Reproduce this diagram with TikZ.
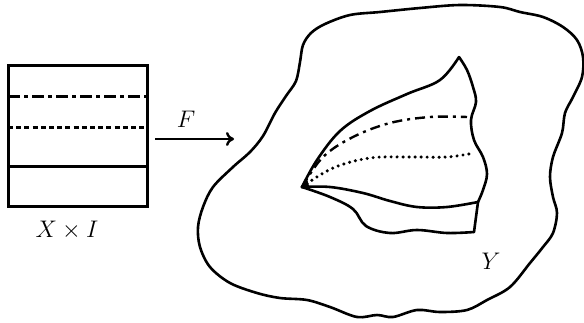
\documentclass[tikz,border=0pt]{standalone}
\usetikzlibrary{arrows.meta}
\begin{document}
\begin{tikzpicture}[x=0.5pt,y=-0.5pt,
  every node/.style={font=\large},
  boxline/.style={line width=1.5pt},
  blobline/.style={line width=1.3pt, line join=round, line cap=round},
  dashdotline/.style={line width=1.2pt, dash pattern=on 5pt off 2.5pt on 1.5pt off 2.5pt},
  dotline/.style={line width=1.7pt, line cap=round, dash pattern=on 0pt off 3pt}]
\useasboundingbox (0,0) rectangle (584,322);
% The cylinder X x I
\draw[boxline] (8,65) rectangle (147,206);
\draw[boxline, dash pattern=on 6pt off 2pt on 2pt off 2pt] (8,96) -- (147,96);
\draw[boxline, dash pattern=on 2.5pt off 1.6pt] (8,127) -- (147,127);
\draw[boxline] (8,166) -- (147,166);
\node (xi) at (67,230) {$X\times I$};
% The map F
\coordinate (fstart) at (155,139);
\coordinate (fend) at (234,139);
\draw[line width=1.2pt, -{To[length=4pt,width=7pt]}] (fstart) -- (fend);
\node (flabel) at (186,119) {$F$};
% The space Y
\draw[blobline] plot[smooth cycle, tension=0.55] coordinates {
  (300,62) (303,45) (311,33) (325,24) (350,15) (380,12) (420,8) (460,5)
  (500,7) (520,12) (543,17) (563,27) (577,40) (583,57) (582,77) (573,97)
  (565,113) (562,133) (553,157) (550,177) (553,197) (557,213) (553,233)
  (543,247) (530,263) (510,287) (487,300) (467,310) (440,312) (417,310)
  (393,317) (377,315) (357,317) (330,307) (307,300) (280,298) (257,293)
  (230,283) (210,267) (200,247) (198,227) (203,207) (213,187) (233,167)
  (250,152) (263,136) (275,113) (286,96) (296,81)};
\node (ylabel) at (491,261) {$Y$};
% The image of X x I
\coordinate (cusp) at (302,187);
\coordinate (spike) at (459,57);
\coordinate (corner) at (478,202);
\coordinate (flapend) at (474,232);
\draw[blobline] plot[smooth, tension=0.6] coordinates {
  (cusp) (317,160) (340,131) (370,111) (407,94) (440,80) (spike)};
\draw[blobline] plot[smooth, tension=0.6] coordinates {
  (spike) (467,70) (473,87) (476,102) (471,120) (474,140) (483,157)
  (487,174) (483,190) (corner)};
\draw[blobline] plot[smooth, tension=0.6] coordinates {
  (cusp) (330,187) (363,193) (390,201) (417,207) (447,207) (corner)};
\draw[blobline] plot[smooth, tension=0.6] coordinates {
  (cusp) (330,197) (353,209) (366,226) (390,233) (417,230) (447,233) (flapend)};
\draw[blobline] (corner) -- (flapend);
\fill (cusp) -- (307,179) -- (310,189) -- cycle;
\draw[dashdotline] plot[smooth, tension=0.6] coordinates {
  (cusp) (323,157) (353,137) (390,123) (430,117) (467,117)};
\draw[dotline] plot[smooth, tension=0.6] coordinates {
  (cusp) (333,168) (370,158) (410,157) (447,157) (474,153)};
\end{tikzpicture}
\end{document}
